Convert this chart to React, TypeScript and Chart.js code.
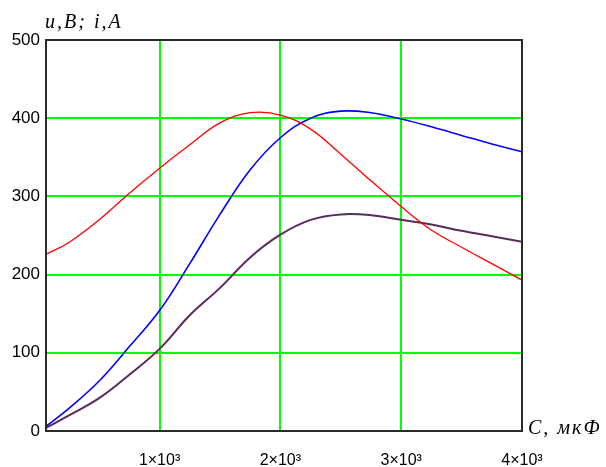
import React, { useEffect, useRef } from 'react';
import { Chart, registerables } from 'chart.js';

Chart.register(...registerables);

// Capacitance C, мкФ
const capacitance = [60, 250, 500, 750, 1000, 1250, 1500, 1750, 2000, 2250, 2500, 2750, 3000, 3250, 3500, 3750, 4000];
// red curve
const seriesRed = [226, 241, 270, 304, 336, 366, 394, 407, 404, 386, 354, 320, 287, 257, 235, 214, 193];
// blue curve
const seriesBlue = [6, 29, 64, 108, 154, 214, 277, 334, 375, 400, 409, 407, 399, 389, 378, 367, 357];
// purple curve
const seriesPurple = [4, 20, 42, 72, 105, 148, 183, 222, 251, 270, 277, 276, 270, 264, 256, 249, 242];

const xTickValues = [1000, 2000, 3000, 4000];
const xTickLabels = ['1×10³', '2×10³', '3×10³', '4×10³'];
const yTickValues = [0, 100, 200, 300, 400, 500];
const yTitle = 'u,B; i,A';
const xTitle = 'C, мкФ';

const framePlugin = {
  id: 'frameAndTitles',
  afterDatasetsDraw(chart: any) {
    const { ctx, chartArea } = chart;
    const { left, top, right, bottom } = chartArea;
    ctx.save();
    ctx.strokeStyle = '#2a2a2a';
    ctx.lineWidth = 2;
    ctx.strokeRect(left, top, right - left, bottom - top);
    ctx.restore();
  },
  afterDraw(chart: any) {
    const { ctx, chartArea } = chart;
    const { left, top, right, bottom } = chartArea;
    ctx.save();
    ctx.fillStyle = '#000';
    ctx.font = 'italic 20px "Liberation Serif"';
    ctx.textBaseline = 'alphabetic';
    ctx.textAlign = 'left';
    (ctx as any).letterSpacing = '2px';
    ctx.fillText(yTitle, left - 1, top - 12);
    ctx.fillText(xTitle, right + 6, bottom + 3);
    ctx.restore();
  },
};

export default function App() {
  const ref = useRef<HTMLCanvasElement | null>(null);

  useEffect(() => {
    if (!ref.current) return;
    const mk = (vals: number[]) => capacitance.map((c, i) => ({ x: c, y: vals[i] }));
    const chart = new Chart(ref.current, {
      type: 'line',
      data: {
        datasets: [
          { data: mk(seriesRed), borderColor: '#ff0000', borderWidth: 1.3, pointRadius: 0, tension: 0.4, fill: false },
          { data: mk(seriesBlue), borderColor: '#0000ff', borderWidth: 1.6, pointRadius: 0, tension: 0.4, fill: false },
          { data: mk(seriesPurple), borderColor: '#5a2a5a', borderWidth: 2, pointRadius: 0, tension: 0.4, fill: false },
        ],
      },
      options: {
        responsive: false,
        animation: false,
        layout: { padding: { top: 40, right: 84, left: 0, bottom: 0 } },
        plugins: { legend: { display: false }, tooltip: { enabled: false }, title: { display: false } },
        scales: {
          x: {
            type: 'linear',
            min: 60,
            max: 4000,
            afterBuildTicks: (scale: any) => {
              scale.ticks = xTickValues.map((v) => ({ value: v }));
            },
            afterFit: (scale: any) => {
              scale.height = 36;
            },
            grid: { color: '#00ff00', lineWidth: 2, drawTicks: false },
            border: { display: false },
            ticks: {
              padding: 20,
              maxRotation: 0,
              autoSkip: false,
              color: '#000',
              font: { family: '"Liberation Sans"', size: 16 },
              callback: (v: any) => {
                const i = xTickValues.indexOf(Number(v));
                return i >= 0 ? xTickLabels[i] : '';
              },
            },
          },
          y: {
            type: 'linear',
            min: 0,
            max: 500,
            afterBuildTicks: (scale: any) => {
              scale.ticks = yTickValues.map((v) => ({ value: v }));
            },
            afterFit: (scale: any) => {
              scale.width = 46;
            },
            grid: { color: '#00ff00', lineWidth: 2, drawTicks: false },
            border: { display: false },
            ticks: {
              padding: 6,
              color: '#000',
              font: { family: '"Liberation Sans"', size: 17 },
              callback: (v: any) => String(v),
            },
          },
        },
      },
      plugins: [framePlugin],
    });
    return () => chart.destroy();
  }, []);

  return (
    <div style={{ position: 'absolute', left: 0, top: 0, width: 606, height: 467, background: '#fff' }}>
      <canvas ref={ref} width={606} height={467} />
    </div>
  );
}
